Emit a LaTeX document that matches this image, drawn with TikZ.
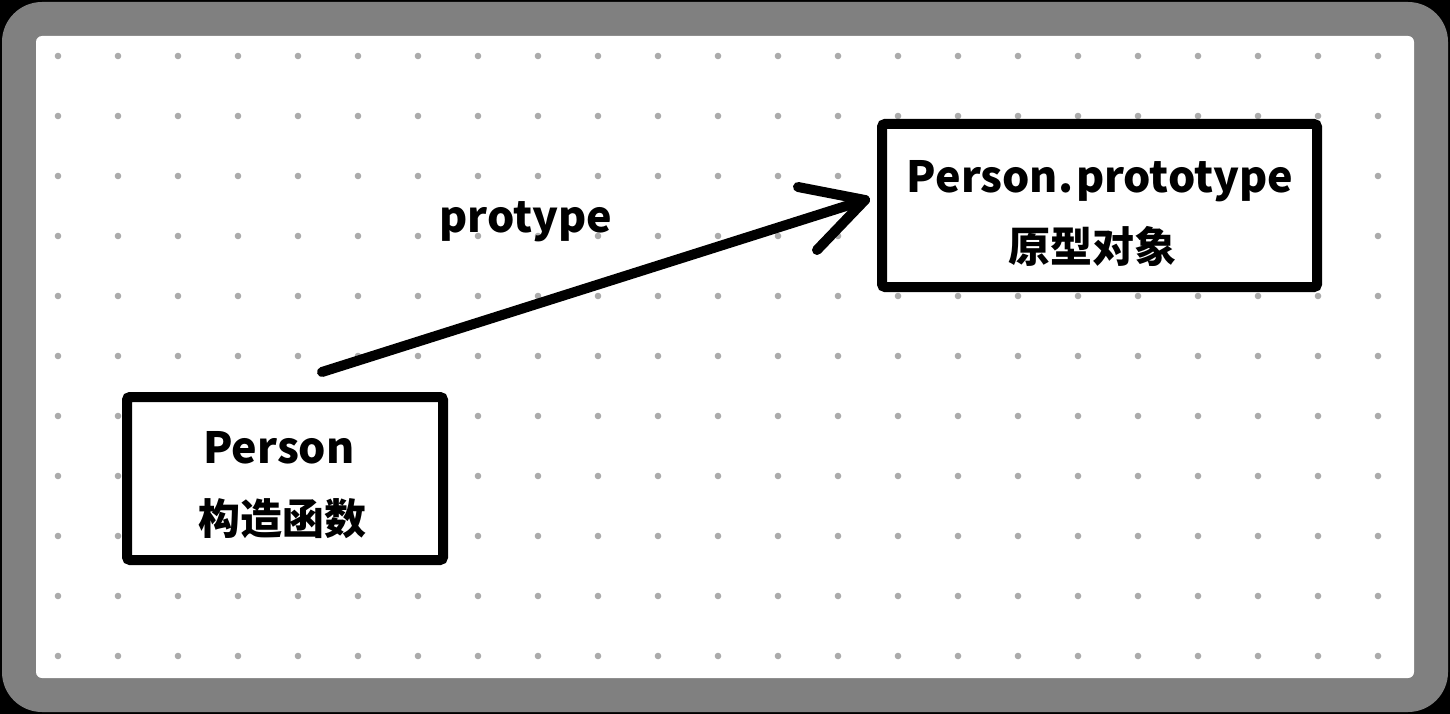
\documentclass[tikz,border=0pt]{standalone}
\usepackage{fontspec}
\setmainfont{Noto Sans}
\newfontfamily\cjk{Noto Sans CJK SC}
\definecolor{framegrey}{HTML}{808080}
\definecolor{dotgrey}{HTML}{ABABAB}
\tikzset{
  boxstyle/.style={draw=black, line width=10pt, rounded corners=3pt, fill=white, inner sep=0pt},
  latintext/.style={font=\cjk\bfseries\fontsize{43}{51}\selectfont, anchor=base, inner sep=0pt},
  cjktext/.style={font=\cjk\bfseries\fontsize{42}{50}\selectfont, anchor=base, inner sep=0pt},
  arrowline/.style={line width=10pt, line cap=round, line join=round},
}
\begin{document}
\begin{tikzpicture}[x=1pt, y=-1pt]
\useasboundingbox (0,0) rectangle (1450,714);
\fill[black] (0,0) rectangle (1450,714);
\fill[framegrey, rounded corners=40pt] (2,2) rectangle (1448,712);
\fill[white, rounded corners=6pt] (36,36) rectangle (1414,678);
\foreach \i in {0,...,22} {
  \foreach \j in {0,...,10} {
    \fill[dotgrey] (58+60*\i, 56+60*\j) circle (3.3);
  }
}
% boxes
\node[boxstyle, minimum width=316pt, minimum height=163pt] (ctor) at (285,478.5) {};
\node[boxstyle, minimum width=435pt, minimum height=163pt] (proto) at (1099.5,205.5) {};
% texts
\node[latintext] (ctorname) at (279,463) {Person};
\node[cjktext] (ctorcn) at (282,534) {构造函数};
\node[latintext] (protoname) at (1100,193) {Person.\kern3pt prototype};
\node[cjktext] (protocn) at (1092,262) {原型对象};
% connector
\coordinate (a0) at (322,372);
\coordinate (a1) at (865,200);
\coordinate (h1) at (798,187);
\coordinate (h2) at (817,250);
\draw[arrowline] (a0) -- (a1);
\draw[arrowline] (h1) -- (a1) -- (h2);
\node[latintext] (lbl) at (526,233) {protype};
\end{tikzpicture}
\end{document}
